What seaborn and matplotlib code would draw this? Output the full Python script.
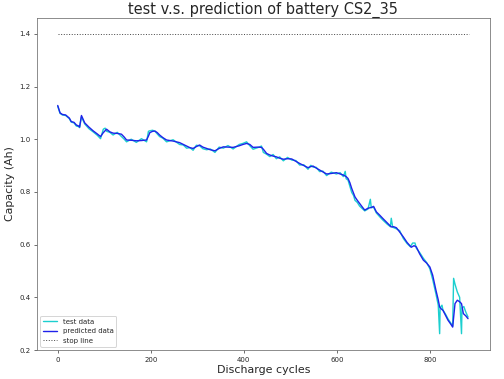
import matplotlib
matplotlib.use("Agg")
import matplotlib.pyplot as plt
import pandas as pd
import seaborn as sns

# predicted capacity
pred_cycles = [0, 5, 10, 17, 25, 29, 35, 40, 45, 47, 51, 58, 67, 76, 85, 92, 98, 105, 112, 119,
               128, 137, 143, 148, 158, 169, 180, 191, 195, 198, 204, 209, 214, 219, 226, 234,
               248, 262, 270, 277, 284, 291, 298, 305, 312, 320, 328, 338, 347, 356, 366, 377,
               390, 398, 406, 413, 420, 430, 438, 442, 449, 456, 463, 470, 477, 485, 494, 503,
               512, 520, 529, 538, 544, 549, 556, 563, 570, 578, 588, 599, 607, 614, 620, 624,
               628, 632, 636, 639, 644, 649, 655, 660, 667, 674, 679, 685, 692, 699, 708, 717,
               722, 728, 735, 743, 751, 760, 766, 771, 778, 786, 793, 800, 806, 813, 818, 821,
               825, 828, 834, 839, 845, 849, 852, 854, 859, 864, 868, 872, 877, 882]
pred_capacity = [1.128, 1.100, 1.094, 1.092, 1.080, 1.067, 1.064, 1.054, 1.050, 1.046, 1.090, 1.062,
                 1.046, 1.032, 1.020, 1.010, 1.025, 1.038, 1.028, 1.023, 1.022, 1.019, 1.008, 0.997,
                 0.996, 0.994, 0.995, 0.997, 1.012, 1.025, 1.030, 1.031, 1.025, 1.016, 1.006, 0.997,
                 0.993, 0.987, 0.980, 0.974, 0.968, 0.965, 0.972, 0.978, 0.970, 0.965, 0.960, 0.956,
                 0.965, 0.971, 0.970, 0.969, 0.975, 0.980, 0.984, 0.980, 0.969, 0.970, 0.969, 0.962,
                 0.946, 0.940, 0.936, 0.933, 0.928, 0.924, 0.926, 0.925, 0.916, 0.908, 0.900, 0.892,
                 0.896, 0.898, 0.890, 0.883, 0.876, 0.868, 0.870, 0.873, 0.868, 0.864, 0.858, 0.851,
                 0.835, 0.813, 0.795, 0.781, 0.768, 0.756, 0.742, 0.731, 0.738, 0.741, 0.745, 0.724,
                 0.712, 0.699, 0.683, 0.667, 0.668, 0.664, 0.648, 0.629, 0.608, 0.590, 0.596, 0.591,
                 0.565, 0.541, 0.530, 0.515, 0.484, 0.427, 0.390, 0.363, 0.355, 0.351, 0.330, 0.313,
                 0.298, 0.287, 0.340, 0.376, 0.389, 0.383, 0.376, 0.338, 0.330, 0.319]

# measured capacity
test_cycles = [0, 5, 10, 17, 25, 29, 35, 40, 45, 47, 51, 58, 67, 76, 85, 92, 98, 102, 105, 112,
               119, 128, 137, 143, 148, 158, 169, 180, 191, 195, 198, 204, 209, 214, 219, 226,
               234, 248, 262, 270, 277, 284, 291, 298, 305, 312, 320, 328, 338, 347, 356, 366,
               377, 390, 398, 406, 413, 420, 430, 438, 442, 449, 456, 463, 470, 477, 485, 494,
               503, 512, 520, 529, 538, 544, 549, 556, 563, 570, 578, 588, 599, 607, 614, 618,
               620, 624, 628, 632, 636, 639, 644, 649, 655, 660, 667, 672, 674, 679, 685, 692,
               699, 708, 715, 717, 720, 728, 735, 743, 751, 758, 763, 768, 771, 778, 786, 793,
               800, 806, 813, 818, 821, 822, 826, 828, 834, 839, 845, 849, 851, 854, 859, 864,
               868, 869, 873, 877, 882]
test_capacity = [1.125, 1.098, 1.092, 1.090, 1.078, 1.065, 1.062, 1.050, 1.048, 1.044, 1.085, 1.058,
                 1.040, 1.028, 1.015, 1.002, 1.038, 1.042, 1.030, 1.026, 1.016, 1.026, 1.010, 1.000,
                 0.990, 1.000, 0.988, 1.002, 0.990, 1.030, 1.032, 1.034, 1.030, 1.020, 1.010, 1.004,
                 0.990, 0.998, 0.980, 0.978, 0.966, 0.968, 0.958, 0.977, 0.975, 0.964, 0.960, 0.963,
                 0.950, 0.970, 0.966, 0.976, 0.963, 0.980, 0.984, 0.990, 0.975, 0.962, 0.968, 0.974,
                 0.950, 0.943, 0.934, 0.942, 0.926, 0.933, 0.918, 0.931, 0.921, 0.919, 0.902, 0.903,
                 0.886, 0.901, 0.894, 0.893, 0.877, 0.879, 0.862, 0.875, 0.868, 0.873, 0.858, 0.878,
                 0.850, 0.845, 0.822, 0.798, 0.786, 0.768, 0.760, 0.746, 0.736, 0.728, 0.735, 0.772,
                 0.740, 0.742, 0.720, 0.706, 0.693, 0.678, 0.668, 0.700, 0.666, 0.660, 0.653, 0.623,
                 0.604, 0.592, 0.606, 0.606, 0.586, 0.570, 0.548, 0.532, 0.508, 0.468, 0.413, 0.370,
                 0.262, 0.360, 0.370, 0.352, 0.335, 0.318, 0.302, 0.290, 0.472, 0.450, 0.420, 0.400,
                 0.262, 0.360, 0.365, 0.345, 0.325]

stop_cycles = [0, 884]
stop_capacity = [1.4, 1.4]

test_df = pd.DataFrame({"cycle": test_cycles, "capacity": test_capacity})
pred_df = pd.DataFrame({"cycle": pred_cycles, "capacity": pred_capacity})
stop_df = pd.DataFrame({"cycle": stop_cycles, "capacity": stop_capacity})

sns.set_style("ticks", {"axes.edgecolor": "0.45"})

fig, ax = plt.subplots(figsize=(7, 379 / 72), dpi=72)
fig.subplots_adjust(left=0.073, right=0.972, top=0.9525, bottom=0.0765)

sns.lineplot(data=test_df, x="cycle", y="capacity", color="#1ccfcf", lw=1.4, label="test data", ax=ax)
sns.lineplot(data=pred_df, x="cycle", y="capacity", color="#1f22ea", lw=1.4, label="predicted data", ax=ax)
sns.lineplot(data=stop_df, x="cycle", y="capacity", color="0.3", lw=1.0, linestyle=":", label="stop line", ax=ax)

ax.set_xlim(-45, 929)
ax.set_ylim(0.2, 1.46)
ax.set_xticks([0, 200, 400, 600, 800])
ax.set_yticks([0.2, 0.4, 0.6, 0.8, 1.0, 1.2, 1.4])
ax.tick_params(labelsize=7, length=3, color="0.3")

ax.set_title("test v.s. prediction of battery CS2_35", fontsize=14.5, pad=4)
ax.set_xlabel("Discharge cycles", fontsize=11, labelpad=2)
ax.set_ylabel("Capacity (Ah)", fontsize=11, labelpad=4)
ax.legend(loc="lower left", fontsize=7, frameon=True)

fig.savefig("out.png", dpi=72)
